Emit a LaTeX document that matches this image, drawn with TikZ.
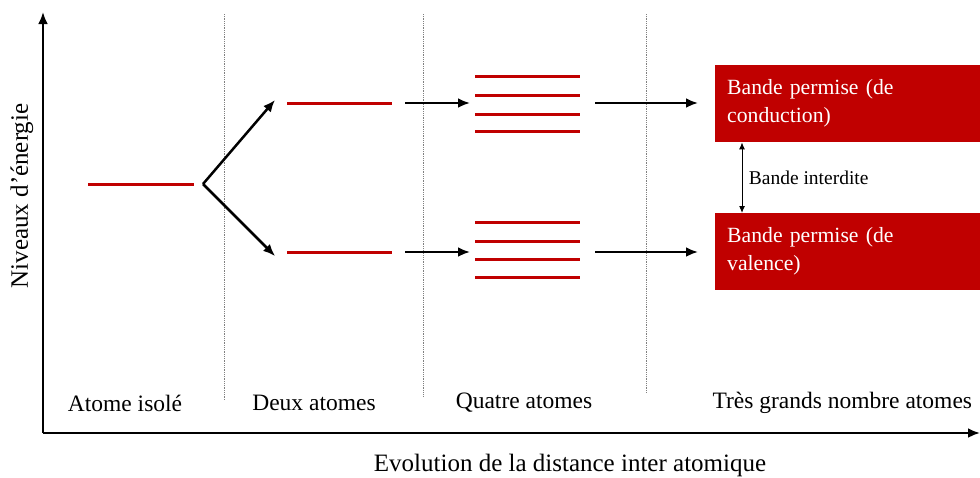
\documentclass[tikz,border=0pt]{standalone}
\usepackage{fontspec}
\setmainfont{Liberation Serif}
\usepackage{xcolor}
\usetikzlibrary{arrows.meta, positioning}
\definecolor{rouge}{RGB}{192,0,0}

\begin{document}
\begin{tikzpicture}[x=1pt, y=-1pt,
  niveau/.style={draw=rouge, line width=3pt},
  fleche/.style={-{Latex[length=12pt,width=10pt]}, line width=2.5pt},
  axe/.style={-{Latex[length=12pt,width=10pt]}, line width=2.8pt},
  separ/.style={densely dotted, gray, line width=0.8pt},
  bande/.style={fill=rouge, text=white, anchor=north west, minimum width=265pt,
                minimum height=77pt, text width=241pt, inner xsep=12pt, align=left,
                font=\fontsize{21.7}{28}\selectfont},
  etiq/.style={font=\fontsize{23.5}{28}\selectfont},
  titre/.style={font=\fontsize{25}{30}\selectfont}]
\useasboundingbox (0,0) rectangle (980,477);

% axes
\coordinate (o) at (43,433);
\coordinate (ymax) at (43,12);
\coordinate (xmax) at (980,433);
\draw[axe] (o) -- (ymax);
\draw[axe] (o) -- (xmax);

% separations
\foreach \x/\yb in {224/400, 423/397, 646/393}
  \draw[separ] (\x,14) -- (\x,\yb);

% niveaux
\coordinate (i1) at (88,184);
\coordinate (i2) at (194,184);
\coordinate (br) at (203,184);
\draw[niveau] (i1) -- (i2);

\coordinate (dh1) at (287,103);  \coordinate (dh2) at (392,103);
\coordinate (db1) at (287,252);  \coordinate (db2) at (392,252);
\draw[niveau] (dh1) -- (dh2);
\draw[niveau] (db1) -- (db2);

\foreach \y in {76,95,114,131,222,241,259,277}
  \draw[niveau] (475,\y) -- (580,\y);
\coordinate (qh) at (470,103);
\coordinate (qb) at (470,252);
\coordinate (qh2) at (595,103);
\coordinate (qb2) at (595,252);

% bandes
\node[bande] (bc) at (715,65) {Bande permise (de\\conduction)};
\node[bande] (bv) at (715,213) {Bande permise (de\\valence)};

% fleches
\draw[fleche] (br) -- (275,100);
\draw[fleche] (br) -- (275,256);
\draw[fleche] ([xshift=13pt]dh2) -- (qh);
\draw[fleche] ([xshift=13pt]db2) -- (qb);
\draw[fleche] (qh2) -- ([xshift=-17pt]bc.west |- qh2);
\draw[fleche] (qb2) -- ([xshift=-17pt]bv.west |- qb2);
\draw[{Latex[length=7pt,width=6pt]}-{Latex[length=7pt,width=6pt]}, line width=1pt]
  ([xshift=27pt]bc.south west) -- ([xshift=27pt]bv.north west)
  node[midway, right=3pt, font=\fontsize{19.5}{22}\selectfont] (gap) {Bande interdite};

% etiquettes
\node[etiq] (l1) at (125,403) {Atome isolé};
\node[etiq] (l2) at (314,403) {Deux atomes};
\node[etiq] (l3) at (524,403) {Quatre atomes};
\node[etiq, anchor=west] (l4) at (709,403) {Très grands nombre atomes};
\node[titre] (xlab) at (570,465) {Evolution de la distance inter atomique};
\node[titre, rotate=90] (ylab) at (22,196) {Niveaux d’énergie};
\end{tikzpicture}
\end{document}
